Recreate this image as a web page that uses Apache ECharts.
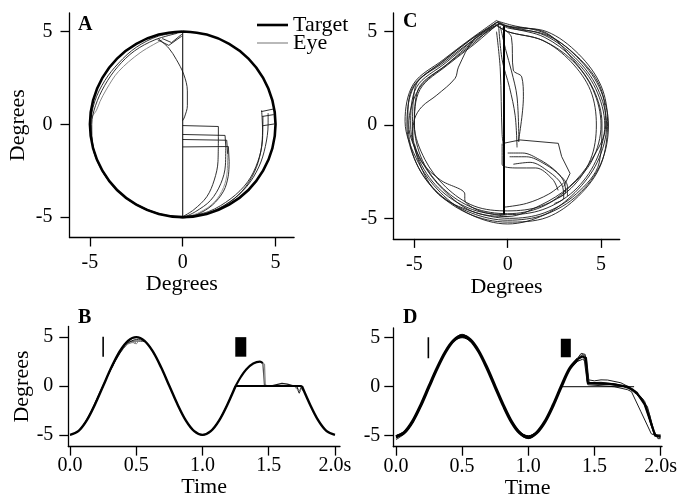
<!DOCTYPE html>
<html><head><meta charset="utf-8">
<script src="https://cdn.jsdelivr.net/npm/echarts@6/dist/echarts.min.js"></script>
<style>html,body{margin:0;padding:0;background:#fff}#c{width:678px;height:499px}</style>
</head><body><div id="c"></div>
<script>
// ---------- tick labels ----------
const degTicks = [-5, 0, 5];
const timeTicks = [0, 0.5, 1, 1.5, 2];

// ---------- Panel A (degrees x, degrees y) ----------
const targetCircleA = [[0,5],[-1.29,4.83],[-2.5,4.33],[-3.54,3.54],[-4.33,2.5],[-4.83,1.29],[-5,0],[-4.83,-1.29],[-4.33,-2.5],[-3.54,-3.54],[-2.5,-4.33],[-1.29,-4.83],[0,-5],[1.29,-4.83],[2.5,-4.33],[3.54,-3.54],[4.33,-2.5],[4.83,-1.29],[5,0],[4.83,1.29],[4.33,2.5],[3.54,3.54],[2.5,4.33],[1.29,4.83],[0,5]];
const targetLineA = [[0,-5],[0,5]];
const eyeInnerA = [[-1.1,4.55],[-2.3,3.85],[-3.47,2.83],[-4.1,1.9],[-4.46,1.22],[-4.65,0.75],[-4.9,0.4]];
const eyeLeftA1 = [[0,4.95],[-1.3,4.75],[-2.5,4.15],[-3.45,3.3],[-4.2,2.35],[-4.75,1.2],[-4.95,0],[-4.8,-1.3],[-4.35,-2.5],[-3.55,-3.55],[-2.5,-4.35],[-1.25,-4.85],[0,-5]];
const eyeLeftA2 = [[-0.3,4.9],[-1.5,4.55],[-2.6,3.95],[-3.5,3.1],[-4.2,2.1],[-4.7,1.0],[-4.9,0],[-4.85,-1.2],[-4.4,-2.4],[-3.6,-3.5],[-2.5,-4.3],[-1.3,-4.8],[0,-5.05]];
const eyeSCurveA = [[-1.3,4.6],[-0.75,4.1],[-0.35,3.5],[0.05,2.7],[0.25,1.8],[0.25,1.0],[0.1,0.4],[0,0.2]];
const eyeWedgeA1 = [[-1.35,4.55],[-0.75,4.25],[-0.05,4.75]];
const eyeWedgeA2 = [[-1.1,4.62],[-0.6,4.4],[-0.05,4.85]];
const eyeRightA1 = [[0,-5],[1.2,-4.85],[2.3,-4.35],[3.2,-3.6],[3.85,-2.6],[4.2,-1.5],[4.3,-0.3],[4.25,0.75]];
const eyeRightA2 = [[0,-5],[1.4,-4.7],[2.6,-4.0],[3.5,-3.1],[4.05,-2.0],[4.3,-0.8],[4.32,0.45]];
const eyeRightA3 = [[0,-5.05],[1.3,-4.8],[2.5,-4.2],[3.45,-3.35],[4.1,-2.3],[4.45,-1.2],[4.6,0],[4.6,0.6]];
const eyeJumpA1 = [[4.22,0.68],[4.88,0.82]];
const eyeJumpA2 = [[4.28,0.42],[4.9,0.52]];
const eyeJumpA3 = [[4.3,-0.08],[4.95,0.02]];
const eyeStepA1 = [[0,-0.07],[1.92,-0.12],[1.92,-0.65]];
const eyeCurveA1 = [[1.92,-0.65],[1.9,-2.0],[1.7,-3.0],[1.3,-3.9],[0.6,-4.6],[0.05,-4.95]];
const eyeStepA2 = [[0,-0.55],[2.28,-0.6],[2.32,-1.2]];
const eyeCurveA2 = [[2.32,-1.2],[2.3,-2.2],[2.05,-3.2],[1.5,-4.1],[0.7,-4.7],[0.1,-5]];
const eyeStepA3 = [[0,-0.82],[2.37,-0.86],[2.42,-1.6]];
const eyeCurveA3 = [[2.42,-1.6],[2.4,-2.5],[2.2,-3.4],[1.7,-4.2],[0.9,-4.75],[0.15,-5]];
const eyeStepA4 = [[0,-1.22],[2.46,-1.2],[2.5,-2.0]];
const eyeCurveA4 = [[2.5,-2.0],[2.45,-2.8],[2.2,-3.6],[1.6,-4.35],[0.8,-4.85],[0.2,-5]];

// ---------- Panel C ----------
const targetLineC = [[-0.2,-4.8],[-0.2,5.3]];
const loopC1 = [[-0.6,5.5],[-1.9,4.5],[-3.3,3.35],[-4.9,2.0],[-5.2,0],[-4.71,-1.95],[-3.54,-3.54],[-1.88,-4.53],[0,-4.8],[1.88,-4.53],[3.54,-3.54],[4.71,-1.95],[5.2,0],[4.71,1.95],[3.54,3.54],[1.95,4.71],[0.2,5.2],[-0.6,5.5]];
const loopC2 = [[-0.5,5.55],[-1.95,4.6],[-3.4,3.45],[-5.0,2.1],[-5.4,0],[-4.9,-2.03],[-3.68,-3.68],[-1.95,-4.71],[0,-5.1],[1.99,-4.8],[3.75,-3.75],[4.99,-2.07],[5.4,0],[4.9,2.03],[3.68,3.68],[2.03,4.9],[0.2,5.35],[-0.5,5.55]];
const loopC3 = [[-0.7,5.4],[-1.8,4.4],[-3.25,3.25],[-4.8,1.9],[-5.0,0],[-4.44,-1.84],[-3.32,-3.32],[-1.8,-4.34],[0,-4.6],[1.8,-4.34],[3.39,-3.39],[4.44,-1.84],[4.75,0],[4.44,1.84],[3.39,3.39],[1.88,4.53],[0,5.0],[-0.7,5.4]];
const loopC4 = [[-0.6,5.6],[-2.0,4.6],[-3.45,3.5],[-5.05,2.2],[-5.5,0.2],[-4.8,-1.99],[-3.61,-3.61],[-1.99,-4.8],[0,-5.3],[1.99,-4.8],[3.61,-3.61],[4.8,-1.99],[5.3,0],[4.8,1.99],[3.61,3.61],[1.99,4.8],[0,5.3],[-0.6,5.6]];
const loopC5 = [[-0.4,5.45],[-1.85,4.45],[-3.2,3.3],[-4.75,1.95],[-5.3,0],[-4.62,-1.92],[-3.46,-3.46],[-1.92,-4.62],[0,-4.9],[1.75,-4.3],[3.3,-3.3],[4.5,-1.85],[5.25,0],[4.95,2.05],[3.7,3.7],[2.0,4.85],[0,5.2],[-0.4,5.45]];
const loopC6 = [[-0.5,5.4],[-1.86,4.55],[-3.36,3.4],[-4.95,2.05],[-5.1,-0.1],[-4.76,-1.97],[-3.71,-3.71],[-1.92,-4.62],[0.1,-5.0],[1.95,-4.71],[3.68,-3.68],[4.9,-2.03],[5.05,0.1],[4.6,1.9],[3.5,3.5],[2.05,4.94],[0,5.3],[-0.5,5.4]];
const loopC7 = [[-0.6,5.35],[-1.76,4.35],[-3.22,3.22],[-4.7,1.9],[-5.0,0],[-4.57,-1.89],[-3.43,-3.43],[-1.84,-4.44],[0,-4.75],[1.82,-4.39],[3.32,-3.32],[4.53,-1.88],[5.0,0],[4.57,1.89],[3.46,3.46],[1.88,4.53],[0,5.0],[-0.6,5.35]];
const loopC8 = [[-0.55,5.5],[-2.0,4.55],[-3.5,3.4],[-5.1,2.0],[-5.35,0.3],[-5.0,-1.8],[-3.9,-3.5],[-2.1,-4.75],[0,-5.2],[2.1,-4.95],[3.8,-3.8],[5.0,-2.1],[5.35,0.2],[5.0,2.1],[3.8,3.8],[2.1,5.0],[0.1,5.25],[-0.55,5.5]];
const detourC1 = [[-0.5,5.4],[-1.8,4.6],[-2.64,3.1],[-2.82,2.5],[-3.8,1.6],[-4.6,0.98],[-5.0,0.3],[-5.1,-0.8]];
const detourC2 = [[-5.0,-1.0],[-4.6,-2.0],[-3.6,-2.95],[-2.3,-3.7],[-2.3,-4.0],[-1.5,-4.6],[0,-4.9]];
const vertC1 = [[-0.4,5.3],[-0.1,4.0],[0.2,2.9],[0.5,1.5],[0.6,-0.9]];
const vertC2 = [[-0.3,5.2],[0.2,4.7],[0.3,2.94],[0.75,2.58],[0.84,1.51],[0.57,-0.89]];
const vertC3 = [[-0.5,5.5],[-0.3,3.5],[0.1,2.0],[0.4,0.5],[0.5,-1.2]];
const vertC4 = [[-0.6,5.0],[-0.4,3.0],[-0.3,-0.5],[-0.2,-1.3]];
const boxC = [[-0.23,-0.98],[0.66,-0.8],[2.71,-0.98],[2.89,-1.69],[3.34,-2.59],[3.0,-3.3]];
const hookC1 = [[0.0,-1.5],[0.8,-1.5],[1.7,-1.85],[2.5,-2.4],[3.0,-3.0],[3.1,-3.6],[2.7,-3.9]];
const hookC2 = [[0.1,-1.7],[1.0,-1.7],[2.0,-2.1],[2.8,-2.7],[3.2,-3.3],[3.2,-3.8]];
const hookC3 = [[0.3,-2.1],[1.2,-2.0],[2.2,-2.5],[2.9,-3.2],[3.0,-3.9],[2.5,-4.2]];
const hookC4 = [[-0.3,-1.0],[-0.3,-2.1],[0.5,-2.3],[1.5,-2.3],[2.4,-2.9],[2.7,-3.5]];
const crossC = [[-0.2,-4.4],[1.0,-4.2],[2.2,-3.7],[3.0,-3.1]];

// ---------- Panel B (time, degrees) ----------
const tSin = [0,0.0625,0.125,0.1875,0.25,0.3125,0.375,0.4375,0.5,0.5625,0.625,0.6875,0.75,0.8125,0.875,0.9375,1,1.0625,1.125,1.1875,1.25];
const targetSin = [-5,-4.62,-3.54,-1.91,0,1.91,3.54,4.62,5,4.62,3.54,1.91,0,-1.91,-3.54,-4.62,-5,-4.62,-3.54,-1.91,0];
const targetFlatB = [[1.25,0],[1.75,0]];
const targetEndB = [[1.75,0],[1.8125,-1.91],[1.875,-3.54],[1.9375,-4.62],[2.0,-5]];
const eyeSinB1 = [-5,-4.6,-3.45,-1.75,0.1,1.8,3.3,4.35,4.75,4.6,3.55,1.92,0.02,-1.9,-3.54,-4.62,-5,-4.62,-3.52,-1.88,0.05];
const eyeSinB2 = [-5,-4.62,-3.5,-1.85,0.02,1.85,3.4,4.45,4.6,4.55,3.5,1.9,0,-1.91,-3.55,-4.63,-5.02,-4.6,-3.5,-1.9,0];
const eyePeakB1 = [[0.44,4.3],[0.47,4.5],[0.49,4.35],[0.5,4.6],[0.52,4.72]];
const eyePeakB2 = [[0.45,4.4],[0.48,4.45],[0.5,4.3],[0.515,4.55],[0.535,4.8]];
const eyeRiseB = [[1.25,0],[1.29,0.95],[1.33,1.7],[1.383,2.3],[1.434,2.49],[1.455,2.35]];
const eyeDropB1 = [[1.455,2.35],[1.462,1.2],[1.468,0.05]];
const eyeDropB2 = [[1.45,2.42],[1.468,2.2],[1.474,0.05]];
const eyeTailB = [[1.468,0.05],[1.52,0.02],[1.56,0.15],[1.6,0.27],[1.64,0.2],[1.68,0.05],[1.71,0.0],[1.73,-0.7],[1.745,-0.15],[1.76,-0.45]];
const eyeZigB = [[1.69,0.05],[1.71,-0.3],[1.72,-0.1],[1.735,-0.6],[1.75,-0.1],[1.765,-0.3]];
const stimB = [[0.25,3.0],[0.25,5.05]];
const blockB = [[1.289,3.0],[1.289,5.0]];

// ---------- Panel D ----------
const tD = [0,0.0625,0.125,0.1875,0.25,0.3125,0.375,0.4375,0.5,0.5625,0.625,0.6875,0.75,0.8125,0.875,0.9375,1,1.0625,1.125,1.1875,1.25,1.3125,1.375];
const eyeD1 = [-5.2,-4.75,-3.6,-1.95,0.05,1.95,3.6,4.75,5.15,4.75,3.6,1.9,-0.05,-1.95,-3.65,-4.8,-5.2,-4.75,-3.6,-1.9,0.05,1.8,2.8];
const eyeD2 = [-5.0,-4.55,-3.45,-1.8,0.15,2.0,3.6,4.7,5.05,4.7,3.6,2.0,0.1,-1.85,-3.5,-4.6,-5.05,-4.6,-3.5,-1.85,0.1,1.9,2.95];
const eyeD3 = [-5.4,-4.8,-3.7,-2.05,-0.1,1.85,3.5,4.65,5.25,4.85,3.7,2.0,0.0,-2.0,-3.7,-4.85,-5.3,-4.8,-3.7,-2.0,-0.05,1.75,2.6];
const eyeD4 = [-5.1,-4.7,-3.5,-1.9,0.0,1.95,3.6,4.8,5.35,4.8,3.55,1.85,-0.1,-1.95,-3.6,-4.7,-5.2,-4.7,-3.55,-1.95,0.0,1.85,2.9];
const eyeD5 = [-5.25,-4.65,-3.55,-1.85,0.1,1.9,3.55,4.7,5.2,4.75,3.65,1.95,0.0,-1.9,-3.6,-4.75,-5.15,-4.7,-3.6,-1.9,0.05,1.85,2.85];
const eyeDMain = [-5.1,-4.68,-3.56,-1.9,0.03,1.92,3.57,4.72,5.18,4.77,3.62,1.93,-0.01,-1.93,-3.61,-4.74,-5.17,-4.71,-3.59,-1.92,0.03,1.83,2.82];
const humpD1 = [[1.375,2.8],[1.4,3.05],[1.42,3.1],[1.435,2.9],[1.445,0.5],[1.5,0.35],[1.6,0.3],[1.7,0.1],[1.78,-0.2],[1.85,-1.0],[1.9,-2.5],[1.93,-4.0],[1.96,-5.0],[2.0,-5.1]];
const humpD2 = [[1.375,2.95],[1.4,3.4],[1.415,3.57],[1.43,3.3],[1.455,0.7],[1.5,0.6],[1.55,0.7],[1.6,0.68],[1.7,0.4],[1.8,-0.3],[1.88,-1.5],[1.92,-3.0],[1.95,-4.8],[2.0,-5.0]];
const humpD3 = [[1.375,2.6],[1.41,2.8],[1.435,2.6],[1.45,0.2],[1.55,0.1],[1.65,0.0],[1.75,-0.3],[1.78,-0.5],[1.85,-2.5],[1.93,-4.8],[2.0,-5.2]];
const humpD4 = [[1.375,2.9],[1.41,3.3],[1.44,3.0],[1.46,0.4],[1.55,0.45],[1.65,0.3],[1.75,0.0],[1.82,-0.8],[1.9,-2.0],[1.95,-4.5],[1.98,-5.3],[2.0,-5.3]];
const humpD5 = [[1.375,2.85],[1.405,3.1],[1.43,2.95],[1.45,0.3],[1.52,0.25],[1.62,0.2],[1.72,0.0],[1.8,-0.4],[1.87,-1.3],[1.92,-3.5],[1.955,-5.0],[2.0,-4.9]];
const humpDMain = [[1.375,2.82],[1.41,3.1],[1.435,2.9],[1.45,0.4],[1.55,0.35],[1.65,0.25],[1.75,0.0],[1.82,-0.6],[1.88,-1.8],[1.93,-3.8],[1.96,-5.0],[2.0,-5.1]];
const targetFlatD = [[1.25,0],[1.8,0]];
const stimD = [[0.245,2.9],[0.245,5.05]];
const blockD = [[1.284,3.0],[1.284,4.9]];

// ---------- build ----------
const FONT = '"Liberation Serif", "Times New Roman", serif';
const zip = (ts, ys) => ts.map((t, i) => [t, ys[i]]);
const degFmt = v => String(v);
const timeFmt = v => (v === 2 ? '2.0s' : v.toFixed(1));

function xAx(g, min, max, ticks, fmt, margin, name, gap) {
  return {gridIndex:g, type:'value', min, max,
    axisLine:{show:true, onZero:false, lineStyle:{color:'#000', width:1.3}},
    axisTick:{show:true, customValues:ticks, length:9, lineStyle:{color:'#000', width:1.3}},
    axisLabel:{customValues:ticks, margin, color:'#000', fontFamily:FONT, fontSize:20, formatter:fmt},
    splitLine:{show:false},
    name, nameLocation:'middle', nameGap:gap,
    nameTextStyle:{color:'#000', fontFamily:FONT, fontSize:22}};
}
function yAx(g, min, max, margin, name, gap) {
  return xAx(g, min, max, degTicks, degFmt, margin, name, gap);
}
function ln(name, data, ax, color, width, smooth, z) {
  return {type:'line', name, data, xAxisIndex:ax, yAxisIndex:ax, symbol:'none', showSymbol:false,
    smooth: smooth || false, lineStyle:{color, width, cap:'butt', join:'round'}, itemStyle:{color},
    silent:true, z: z || 2, animation:false, emphasis:{disabled:true}};
}
const EYE = '#1a1a1a', GRAY = '#8a8a8a', S = 0.34;

const series = [
  // A
  ln('Target', targetCircleA, 0, '#000', 2.6, S, 5),
  ln('Eye', eyeInnerA, 0, GRAY, 1, S),
  ln('Target', targetLineA, 0, '#000', 1, false, 4),
  ln('Eye', eyeLeftA1, 0, EYE, 0.9, S),
  ln('Eye', eyeLeftA2, 0, EYE, 0.9, S),
  ln('Eye', eyeSCurveA, 0, EYE, 0.9, S),
  ln('Eye', eyeWedgeA1, 0, EYE, 0.9),
  ln('Eye', eyeWedgeA2, 0, EYE, 0.9),
  ln('Eye', eyeRightA1, 0, EYE, 0.9, S),
  ln('Eye', eyeRightA2, 0, EYE, 0.9, S),
  ln('Eye', eyeRightA3, 0, EYE, 0.9, S),
  ln('Eye', eyeJumpA1, 0, EYE, 0.9),
  ln('Eye', eyeJumpA2, 0, EYE, 0.9),
  ln('Eye', eyeJumpA3, 0, EYE, 0.9),
  ln('Eye', eyeStepA1, 0, EYE, 0.9),
  ln('Eye', eyeCurveA1, 0, EYE, 0.9, S),
  ln('Eye', eyeStepA2, 0, EYE, 0.9),
  ln('Eye', eyeCurveA2, 0, EYE, 0.9, S),
  ln('Eye', eyeStepA3, 0, EYE, 0.9),
  ln('Eye', eyeCurveA3, 0, GRAY, 0.9, S),
  ln('Eye', eyeStepA4, 0, EYE, 0.9),
  ln('Eye', eyeCurveA4, 0, EYE, 0.9, S),
  // C
  ln('Target', targetLineC, 1, '#000', 2, false, 4),
];
[loopC1, loopC2, loopC3, loopC4, loopC5, loopC6, loopC7, loopC8].forEach(d => series.push(ln('Eye', d, 1, EYE, 0.9, S)));
[detourC1, detourC2, vertC1, vertC2, vertC3, vertC4, hookC1, hookC2, hookC3, hookC4, crossC].forEach(d => series.push(ln('Eye', d, 1, EYE, 0.9, S)));
series.push(ln('Eye', boxC, 1, EYE, 0.9));
// B
series.push(
  ln('Target', zip(tSin, targetSin), 2, '#000', 2.4, S, 5),
  ln('Target', targetFlatB, 2, '#000', 1.8, false, 5),
  ln('Target', targetEndB, 2, '#000', 2.4, S, 5),
  ln('Eye', zip(tSin, eyeSinB1), 2, EYE, 1, S),
  ln('Eye', zip(tSin, eyeSinB2), 2, EYE, 1, S),
  ln('Eye', eyePeakB1, 2, GRAY, 1),
  ln('Eye', eyePeakB2, 2, GRAY, 1),
  ln('Eye', eyeRiseB, 2, '#000', 2.2, S, 5),
  ln('Eye', eyeDropB1, 2, '#555', 1.3),
  ln('Eye', eyeDropB2, 2, GRAY, 1.3),
  ln('Eye', eyeTailB, 2, EYE, 1.3),
  ln('Eye', eyeZigB, 2, GRAY, 1),
  ln('Stimulus', stimB, 2, '#000', 1.6),
  ln('Stimulus', blockB, 2, '#000', 11)
);
// D
[eyeD1, eyeD2, eyeD3, eyeD4, eyeD5].forEach(v => series.push(ln('Eye', zip(tD, v), 3, EYE, 1, S)));
series.push(ln('Eye', zip(tD, eyeDMain), 3, '#000', 3.2, S, 5));
[humpD1, humpD2, humpD3, humpD4, humpD5].forEach(d => series.push(ln('Eye', d, 3, EYE, 1)));
series.push(
  ln('Eye', humpDMain, 3, '#000', 2.2, false, 5),
  ln('Target', zip(tSin, targetSin), 3, '#000', 1, S, 4),
  ln('Target', targetFlatD, 3, '#000', 1, false, 4),
  ln('Stimulus', stimD, 3, '#000', 1.6),
  ln('Stimulus', blockD, 3, '#000', 10)
);

const legendText = {color:'#000', fontFamily:FONT, fontSize:22};
const chart = echarts.init(document.getElementById('c'), null, {renderer:'canvas'});
chart.setOption({
  animation:false,
  backgroundColor:'#fff',
  grid:[
    {left:69.5, top:12.9, width:224.6, height:224.6, outerBoundsMode:'none'},
    {left:393.3, top:13, width:226.4, height:225.9, outerBoundsMode:'none'},
    {left:68.3, top:326.4, width:271.7, height:120.2, outerBoundsMode:'none'},
    {left:393.3, top:327.9, width:268.7, height:118.8, outerBoundsMode:'none'}
  ],
  xAxis:[
    xAx(0, -6.1, 6, degTicks, degFmt, 15, 'Degrees', 32),
    xAx(1, -6.13, 6, degTicks, degFmt, 16, 'Degrees', 30),
    xAx(2, -0.013, 2.038, timeTicks, timeFmt, 9, 'Time', 30),
    xAx(3, -0.02, 2.011, timeTicks, timeFmt, 10, 'Time', 31)
  ],
  yAxis:[
    yAx(0, -6.1, 6, 17, 'Degrees', 40),
    yAx(1, -6.1, 6, 16, '', 40),
    yAx(2, -6.2, 6.1, 15, 'Degrees', 34),
    yAx(3, -6.12, 6, 13, '', 40)
  ],
  legend:[
    {data:['Target'], left:257, top:14, padding:0, icon:'rect', itemWidth:31, itemHeight:2.6, selectedMode:false, textStyle:legendText},
    {data:['Eye'], left:257, top:32, padding:0, icon:'rect', itemWidth:31, itemHeight:1.2, selectedMode:false, textStyle:legendText}
  ],
  graphic:[
    {type:'text', left:78, top:15, style:{text:'A', font:'bold 20px ' + FONT, fill:'#000'}},
    {type:'text', left:403, top:12, style:{text:'C', font:'bold 20px ' + FONT, fill:'#000'}},
    {type:'text', left:78, top:308, style:{text:'B', font:'bold 20px ' + FONT, fill:'#000'}},
    {type:'text', left:403, top:308, style:{text:'D', font:'bold 20px ' + FONT, fill:'#000'}}
  ],
  series
});
</script>
</body></html>
